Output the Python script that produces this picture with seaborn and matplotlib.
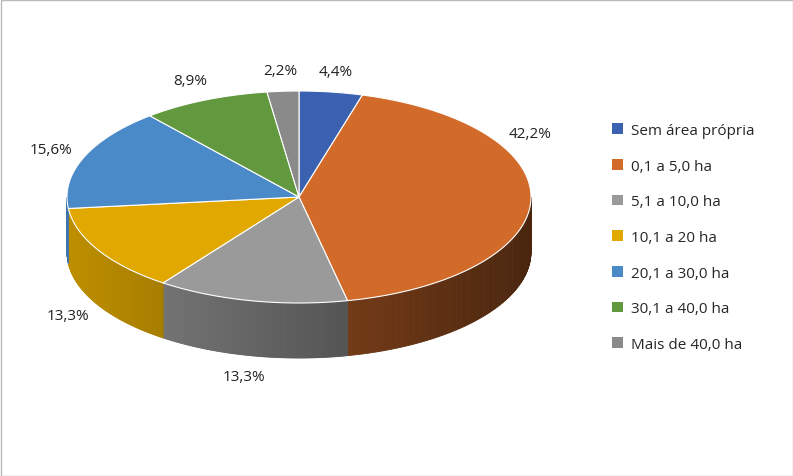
import numpy as np
import seaborn as sns
import matplotlib.pyplot as plt
from matplotlib.patches import Polygon, Patch, Rectangle
from matplotlib.colors import to_rgb

categories = ["Sem área própria", "0,1 a 5,0 ha", "5,1 a 10,0 ha", "10,1 a 20 ha",
              "20,1 a 30,0 ha", "30,1 a 40,0 ha", "Mais de 40,0 ha"]
values = [4.4, 42.2, 13.3, 13.3, 15.6, 8.9, 2.2]
labels = ["4,4%", "42,2%", "13,3%", "13,3%", "15,6%", "8,9%", "2,2%"]
colors = ["#3B62B0", "#D26B2A", "#9A9A9A", "#E0A800", "#4A8AC8", "#62993E", "#8A8A8A"]

sns.set_theme(style="white")
plt.rcParams["font.family"] = ["Open Sans", "DejaVu Sans"]
palette = sns.color_palette(colors)

fig = plt.figure(figsize=(7.93, 4.77), dpi=100)
ax = fig.add_axes([0, 0, 1, 1])
ax.set_xlim(0, 793)
ax.set_ylim(477, 0)
ax.axis("off")
ax.add_patch(Rectangle((0.5, 0.5), 792, 476, fill=False, edgecolor="#BBBBBB", lw=1))

cx, cy, rx, ry, depth = 299, 198, 232, 106, 55


def pt(t, dy=0):
    return cx + rx * np.cos(t), cy - ry * np.sin(t) + dy


fracs = np.array(values) / sum(values)
bounds = np.pi / 2 - 2 * np.pi * np.concatenate([[0], np.cumsum(fracs)])

# side walls (front half only)
for i, col in enumerate(palette):
    ts = np.linspace(bounds[i], bounds[i + 1], 200)
    for a, b in zip(ts[:-1], ts[1:]):
        if np.sin((a + b) / 2) > 0:
            continue
        f = 0.85 - 0.5 * (np.cos((a + b) / 2) + 1) / 2
        c = np.clip(np.array(to_rgb(col)) * f, 0, 1)
        x0, y0 = pt(a)
        x1, y1 = pt(b)
        ax.add_patch(Polygon([(x0, y0), (x1, y1), (x1, y1 + depth), (x0, y0 + depth)],
                             closed=True, facecolor=c, edgecolor=c, lw=0.6))

# top faces
for i, col in enumerate(palette):
    ts = np.linspace(bounds[i], bounds[i + 1], 200)
    xs, ys = pt(ts)
    poly = [(cx, cy)] + list(zip(xs, ys))
    ax.add_patch(Polygon(poly, closed=True, facecolor=col, edgecolor="white", lw=0.8))

# labels
for i, lab in enumerate(labels):
    span = bounds[i + 1] - bounds[i]
    tm = bounds[i] + (0.29 if fracs[i] > 0.3 else 0.5) * span
    x, y = cx + 1.15 * rx * np.cos(tm), cy - 1.2 * ry * np.sin(tm)
    if np.sin(tm) < 0:
        y += depth
    ax.text(x, y, lab, ha="center", va="center", fontsize=11, color="#222222")

handles = [Patch(facecolor=c, edgecolor="none") for c in palette]
fig.legend(handles, categories, loc="center left", bbox_to_anchor=(0.755, 0.5),
           frameon=False, fontsize=11, labelspacing=1.35, handlelength=0.7,
           handleheight=0.7, handletextpad=0.5)

fig.savefig("out.png", dpi=100)
